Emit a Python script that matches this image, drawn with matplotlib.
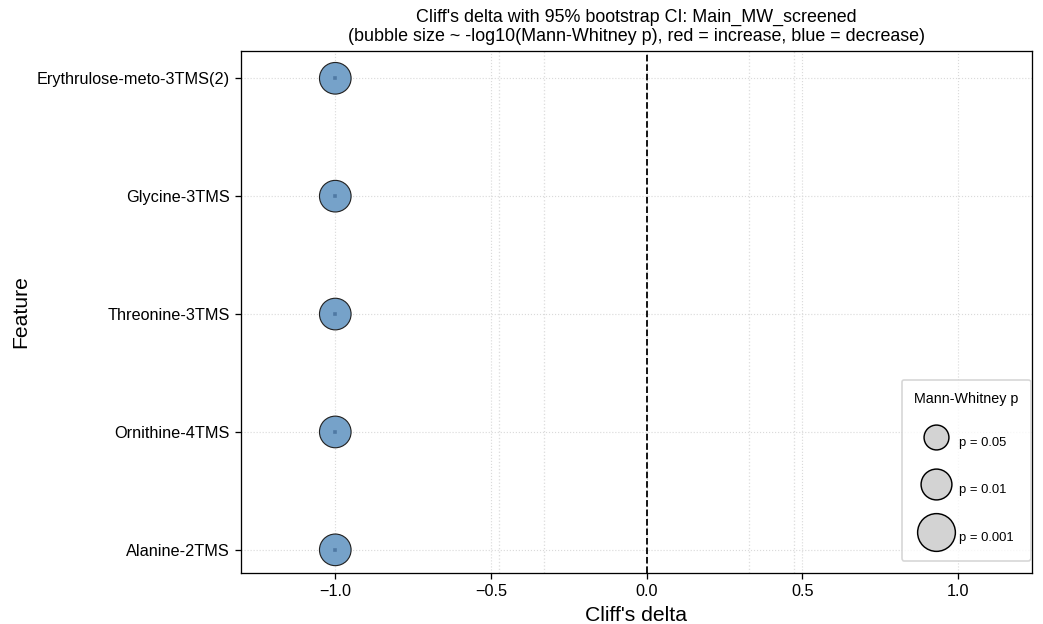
import numpy as np
import matplotlib.pyplot as plt

plt.rcParams['font.family'] = ['Liberation Sans', 'DejaVu Sans']

features = ["Alanine-2TMS", "Ornithine-4TMS", "Threonine-3TMS",
            "Glycine-3TMS", "Erythrulose-meto-3TMS(2)"]
delta = [-1.0, -1.0, -1.0, -1.0, -1.0]
ci_low = [-1.0, -1.0, -1.0, -1.0, -1.0]
ci_high = [-1.0, -1.0, -1.0, -1.0, -1.0]
p_mw = [0.0079, 0.0079, 0.0079, 0.0079, 0.0079]

legend_p = [0.05, 0.01, 0.001]
legend_labels = ["p = 0.05", "p = 0.01", "p = 0.001"]


def bubble_size(p):
    return 180 * -np.log10(p)


fig, ax = plt.subplots(figsize=(1043 / 117, 624 / 117), dpi=117)

y = np.arange(len(features))
d = np.array(delta)
colors = ['#c9574f' if v > 0 else '#76a2c9' for v in d]

# effect size thresholds
for t in [0.33, 0.474]:
    for s in (-1, 1):
        ax.axvline(s * t, color='#dddddd', lw=0.8, ls=':', zorder=0)
ax.axvline(0, color='black', lw=1.1, ls='--', zorder=1)

ax.scatter(d, y, s=bubble_size(np.array(p_mw)), c=colors,
           edgecolors='#222222', linewidths=0.7, zorder=3)
xerr = [d - np.array(ci_low), np.array(ci_high) - d]
ax.errorbar(d, y, xerr=xerr, fmt='s', ms=1.8, color='#4f79a3',
            ecolor='#4f79a3', capsize=0, zorder=4)

ax.set_yticks(y)
ax.set_yticklabels(features, fontsize=10)
ax.set_xticks([-1.0, -0.5, 0.0, 0.5, 1.0])
ax.tick_params(axis='x', labelsize=10)
ax.set_xlim(-1.303, 1.236)
ax.set_ylim(-0.195, 4.23)
ax.grid(True, ls=':', color='#dadada', lw=0.7, zorder=0)
ax.set_axisbelow(True)

ax.set_xlabel("Cliff's delta", fontsize=13)
ax.set_ylabel("Feature", fontsize=13)
ax.set_title("Cliff's delta with 95% bootstrap CI: Main_MW_screened\n"
             "(bubble size ~ -log10(Mann-Whitney p), red = increase, blue = decrease)",
             fontsize=11)

handles = [ax.scatter([], [], s=bubble_size(p), color='#d3d3d3',
                      edgecolors='black', linewidths=0.9)
           for p in legend_p]
ax.legend(handles, legend_labels, title="Mann-Whitney p", loc='lower right',
          bbox_to_anchor=(0.999, 0.023), borderaxespad=0,
          fontsize=8, title_fontsize=8.8, labelspacing=1.85, handleheight=2.4,
          handlelength=2.65, borderpad=0.95, handletextpad=0.5, frameon=True)

plt.subplots_adjust(left=0.231, right=0.989, top=0.918, bottom=0.082)
plt.savefig("out.png", dpi=117)
